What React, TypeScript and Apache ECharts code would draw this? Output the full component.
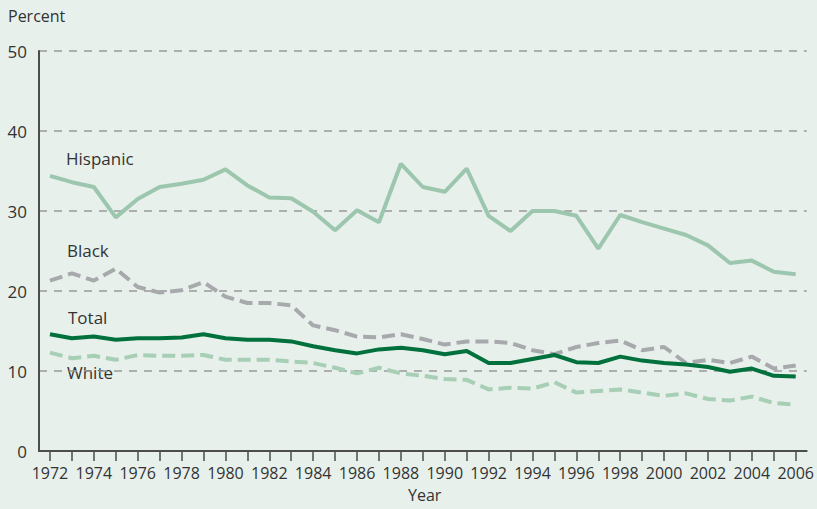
import React, { useEffect, useRef } from "react";
import * as echarts from "echarts";

const years = [
  "1972","1973","1974","1975","1976","1977","1978","1979","1980","1981","1982","1983",
  "1984","1985","1986","1987","1988","1989","1990","1991","1992","1993","1994","1995",
  "1996","1997","1998","1999","2000","2001","2002","2003","2004","2005","2006",
];

const hispanic = [
  34.4, 33.6, 33.0, 29.2, 31.5, 33.0, 33.4, 33.9, 35.2, 33.2, 31.7, 31.6,
  29.9, 27.6, 30.1, 28.6, 35.9, 33.0, 32.4, 35.3, 29.4, 27.5, 30.0, 30.0,
  29.4, 25.3, 29.5, 28.6, 27.8, 27.0, 25.7, 23.5, 23.8, 22.4, 22.1,
];

const black = [
  21.3, 22.2, 21.3, 22.8, 20.5, 19.8, 20.1, 21.1, 19.3, 18.5, 18.5, 18.2,
  15.7, 15.1, 14.3, 14.2, 14.6, 14.0, 13.3, 13.7, 13.7, 13.5, 12.6, 12.1,
  13.0, 13.5, 13.8, 12.6, 13.0, 11.0, 11.4, 11.0, 11.8, 10.3, 10.7,
];

const total = [
  14.6, 14.1, 14.3, 13.9, 14.1, 14.1, 14.2, 14.6, 14.1, 13.9, 13.9, 13.7,
  13.1, 12.6, 12.2, 12.7, 12.9, 12.6, 12.1, 12.5, 11.0, 11.0, 11.5, 12.0,
  11.1, 11.0, 11.8, 11.3, 11.0, 10.8, 10.5, 9.9, 10.3, 9.4, 9.3,
];

const white = [
  12.3, 11.6, 11.9, 11.4, 12.0, 11.9, 11.9, 12.0, 11.4, 11.4, 11.4, 11.2,
  11.0, 10.4, 9.7, 10.4, 9.7, 9.4, 9.0, 8.9, 7.7, 7.9, 7.8, 8.6,
  7.3, 7.5, 7.7, 7.3, 6.9, 7.2, 6.5, 6.3, 6.8, 6.0, 5.8,
];

const yTicks = { min: 0, max: 50, interval: 10 };

const FONT = "'Open Sans', 'Noto Sans', sans-serif";
const TEXT = "#333333";

export default function App() {
  const ref = useRef<HTMLDivElement>(null);

  useEffect(() => {
    if (!ref.current) return;
    const chart = echarts.init(ref.current, null, { renderer: "svg" });
    const lbl = (text: string, x: number, y: number, size = 16) => ({
      type: "text",
      left: x,
      top: y,
      style: { text, fill: TEXT, font: `${size}px ${FONT}` },
    });
    chart.setOption({
      animation: false,
      backgroundColor: "#e7f0eb",
      grid: { left: 39, right: 10, top: 51, bottom: 58 },
      xAxis: {
        type: "category",
        data: years,
        boundaryGap: true,
        axisLine: { lineStyle: { color: "#4d4d4d", width: 2 } },
        axisTick: {
          show: true,
          alignWithLabel: true,
          interval: 0,
          length: 10,
          lineStyle: { color: "#4d4d4d", width: 1.5 },
        },
        axisLabel: {
          interval: 1,
          color: TEXT,
          fontFamily: FONT,
          fontSize: 16,
          margin: 14,
        },
        splitLine: { show: false },
      },
      yAxis: {
        type: "value",
        min: yTicks.min,
        max: yTicks.max,
        interval: yTicks.interval,
        axisLine: { show: true, lineStyle: { color: "#4d4d4d", width: 2 } },
        axisTick: { show: false },
        axisLabel: { color: TEXT, fontFamily: FONT, fontSize: 17, margin: 12 },
        splitLine: {
          show: true,
          lineStyle: { color: "#999999", width: 1.5, type: [8, 7] },
        },
      },
      series: [
        {
          name: "Hispanic",
          type: "line",
          data: hispanic,
          symbol: "none",
          lineStyle: { color: "#9cc7ae", width: 4 },
          z: 3,
        },
        {
          name: "Black",
          type: "line",
          data: black,
          symbol: "none",
          lineStyle: { color: "#a8a9ad", width: 4, type: [13, 6] },
          z: 3,
        },
        {
          name: "White",
          type: "line",
          data: white,
          symbol: "none",
          lineStyle: { color: "#a6cfb5", width: 4, type: [13, 6] },
          z: 3,
        },
        {
          name: "Total",
          type: "line",
          data: total,
          symbol: "none",
          lineStyle: { color: "#00703c", width: 4 },
          z: 4,
        },
      ],
      graphic: [
        lbl("Percent", 8, 8),
        lbl("Hispanic", 66, 150, 17),
        lbl("Black", 67, 242, 17),
        lbl("Total", 68, 309, 17),
        lbl("White", 67, 364, 17),
        lbl("Year", 408, 487),
      ],
    });
    return () => chart.dispose();
  }, []);

  return <div ref={ref} style={{ width: 817, height: 509, position: "absolute", left: 0, top: 0 }} />;
}
